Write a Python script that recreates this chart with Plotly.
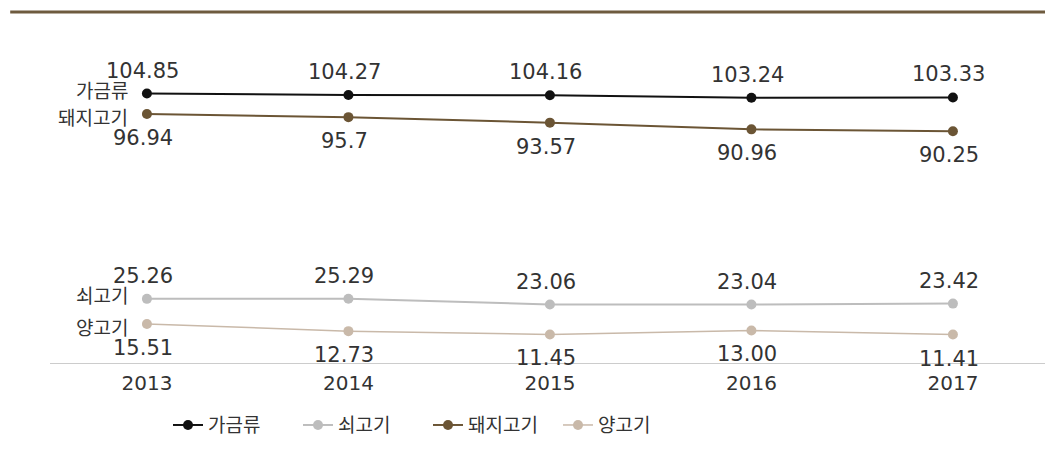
import plotly.graph_objects as go

years = [2013, 2014, 2015, 2016, 2017]
poultry = [104.85, 104.27, 104.16, 103.24, 103.33]
beef = [25.26, 25.29, 23.06, 23.04, 23.42]
pork = [96.94, 95.7, 93.57, 90.96, 90.25]
lamb = [15.51, 12.73, 11.45, 13.00, 11.41]
pork_labels = ["96.94", "95.7", "93.57", "90.96", "90.25"]
lamb_labels = ["15.51", "12.73", "11.45", "13.00", "11.41"]
poultry_labels = ["104.85", "104.27", "104.16", "103.24", "103.33"]
beef_labels = ["25.26", "25.29", "23.06", "23.04", "23.42"]

names = ["가금류", "쇠고기", "돼지고기", "양고기"]
series = [poultry, beef, pork, lamb]
labels = [poultry_labels, beef_labels, pork_labels, lamb_labels]
colors = ["#111111", "#bdbdbd", "#6b5535", "#c9b9a9"]
widths = [2, 2, 2, 1.5]
above = [True, True, False, False]

FONT = "DejaVu Sans, Noto Sans CJK KR, sans-serif"
KFONT = "Noto Sans CJK KR, DejaVu Sans, sans-serif"
TXT = "#333333"

fig = go.Figure()
for n, s, c, w in zip(names, series, colors, widths):
    fig.add_trace(go.Scatter(
        x=years, y=s, name=n, mode="lines+markers",
        line=dict(color=c, width=w), marker=dict(color=c, size=10),
        hoverinfo="skip"))

annotations = []
for n, s, lab, up in zip(names, series, labels, above):
    for x, v, t in zip(years, s, lab):
        annotations.append(dict(
            x=x, y=v, xref="x", yref="y", text=t, showarrow=False,
            xshift=-4, yshift=23 if up else -24,
            font=dict(family=FONT, size=21, color=TXT)))
    annotations.append(dict(
        x=years[0], y=s[0], xref="x", yref="y", text=n, showarrow=False,
        xanchor="right", xshift=-17, yshift=4 if up else -3,
        font=dict(family=KFONT, size=19, color=TXT)))

fig.update_layout(
    width=1045, height=469,
    margin=dict(l=50, r=0, t=40, b=105),
    paper_bgcolor="white", plot_bgcolor="white",
    showlegend=True,
    legend=dict(orientation="h", x=0.1186, xanchor="left", y=-0.13, yanchor="top",
                font=dict(family=KFONT, size=19, color=TXT),
                entrywidth=85, entrywidthmode="pixels", itemwidth=30),
    xaxis=dict(range=[2012.519, 2017.457], tickmode="array", tickvals=years,
               ticktext=[str(y) for y in years], showgrid=False, zeroline=False,
               showline=False, ticks="outside", ticklen=1, tickcolor="rgba(0,0,0,0)",
               tickfont=dict(family=FONT, size=20, color=TXT)),
    yaxis=dict(range=[0, 125.6], showgrid=False, zeroline=False, showline=False,
               showticklabels=False),
    annotations=annotations,
    shapes=[
        dict(type="line", xref="paper", yref="y", x0=0, x1=1, y0=0, y1=0,
             line=dict(color="#bbbbbb", width=1.5)),
        dict(type="line", xref="paper", yref="paper", x0=-0.04, x1=1.0,
             y0=(469 - 105 - 12) / 324, y1=(469 - 105 - 12) / 324,
             line=dict(color="#6e5b3f", width=3)),
    ],
)

fig.write_html("out.html")
